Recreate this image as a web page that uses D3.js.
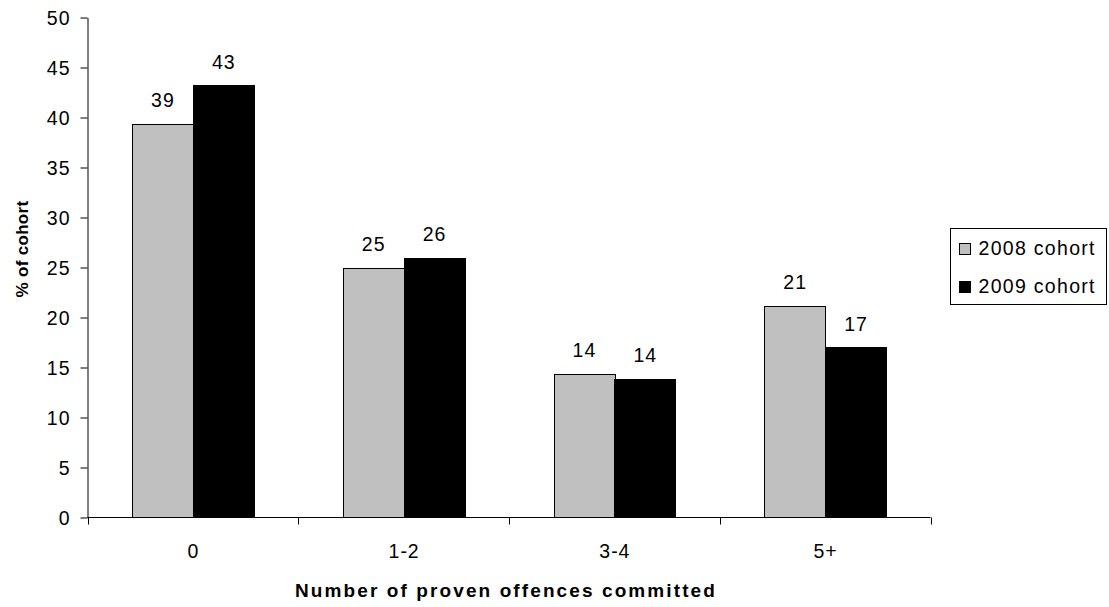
<!DOCTYPE html>
<html><head><meta charset="utf-8">
<script src="https://cdn.jsdelivr.net/npm/d3@7"></script>
<style>body{margin:0;background:#fff}svg{display:block}text{font-family:"Liberation Sans",Arial,sans-serif}</style>
</head><body><svg id="c" width="1109" height="607"></svg>
<script>
const categories = ["0", "1-2", "3-4", "5+"];
const seriesNames = ["2008 cohort", "2009 cohort"];
const values2008 = [39.4, 25.0, 14.4, 21.2];
const values2009 = [43.2, 26.0, 13.9, 17.0];
const yTicks = [0, 5, 10, 15, 20, 25, 30, 35, 40, 45, 50];
const colors = ["#c0c0c0", "#000000"];

const FONT = '"Liberation Sans",Arial,sans-serif';
const FS = 19.5, LS = 1;
const svg = d3.select("#c");
const L = 87.5, R = 930.5, T = 17.5, B = 517.5;
const x = d3.scaleBand().domain(categories).range([L, R]).paddingInner(0).paddingOuter(0);
const sub = d3.scaleBand().domain(seriesNames).range([44.5, x.bandwidth() - 44.5]);
const y = d3.scaleLinear().domain([0, 50]).range([B, T]);

const data = categories.map((c, i) => ({c, vals: [values2008[i], values2009[i]]}));

// bars
const g = svg.append("g");
data.forEach(d => {
  d.vals.forEach((v, j) => {
    const bx = x(d.c) + sub(seriesNames[j]);
    g.append("rect")
      .attr("x", Math.round(bx) + 0.5).attr("y", Math.round(y(v)) + 0.5)
      .attr("width", Math.round(sub.bandwidth()))
      .attr("height", B - Math.round(y(v)) - 0.5)
      .attr("fill", colors[j]).attr("stroke", "#000").attr("stroke-width", 1);
    g.append("text")
      .attr("x", bx + sub.bandwidth() / 2 + 0.5).attr("y", y(v) - 17)
      .attr("text-anchor", "middle").attr("font-size", FS).attr("letter-spacing", LS).attr("fill", "#000")
      .text(d3.format(".0f")(v));
  });
});

// y axis
const ya = svg.append("g").attr("transform", `translate(${L},0)`)
  .call(d3.axisLeft(y).tickValues(yTicks).tickSize(7).tickSizeOuter(0).tickFormat(d3.format("d")));
ya.select(".domain").attr("stroke", "#000");
ya.selectAll(".tick line").attr("stroke", "#000");
ya.selectAll(".tick text").attr("font-size", FS).attr("font-family", FONT).attr("letter-spacing", LS)
  .attr("fill", "#000").attr("x", -17).attr("dy", "0.36em");

// x axis
const xa = svg.append("g").attr("transform", `translate(0,${B})`)
  .call(d3.axisBottom(x).tickSize(0).tickSizeOuter(0));
xa.select(".domain").attr("stroke", "#000").attr("d", `M${L},0H${R}`);
xa.selectAll(".tick text").attr("font-size", FS).attr("font-family", FONT).attr("letter-spacing", LS)
  .attr("fill", "#000").attr("dy", null).attr("y", 40.5).attr("dx", 0.5);
const bounds = categories.map(c => x(c)).concat([R]);
xa.selectAll(".sep").data(bounds).enter().append("line").attr("class", "sep")
  .attr("x1", d => Math.round(d) + 0.5).attr("x2", d => Math.round(d) + 0.5)
  .attr("y1", 0).attr("y2", 7).attr("stroke", "#000");

// axis titles
svg.append("text").attr("x", 506).attr("y", 597).attr("text-anchor", "middle")
  .attr("font-size", 19).attr("font-weight", "bold").attr("letter-spacing", 2.1)
  .text("Number of proven offences committed");
svg.append("text").attr("transform", "translate(28,249) rotate(-90)").attr("text-anchor", "middle")
  .attr("font-size", 17).attr("font-weight", "bold").attr("letter-spacing", 0.3)
  .text("% of cohort");

// legend
const lg = svg.append("g");
lg.append("rect").attr("x", 950.5).attr("y", 228.5).attr("width", 156).attr("height", 76)
  .attr("fill", "#fff").attr("stroke", "#000");
seriesNames.forEach((s, j) => {
  const base = 254.5 + j * 38;
  lg.append("rect").attr("x", 959.5).attr("y", base - 11).attr("width", 11).attr("height", 11)
    .attr("fill", colors[j]).attr("stroke", "#000");
  lg.append("text").attr("x", 978.5).attr("y", base).attr("font-size", FS).attr("letter-spacing", 1.3)
    .attr("fill", "#000").text(s);
});
</script></body></html>
